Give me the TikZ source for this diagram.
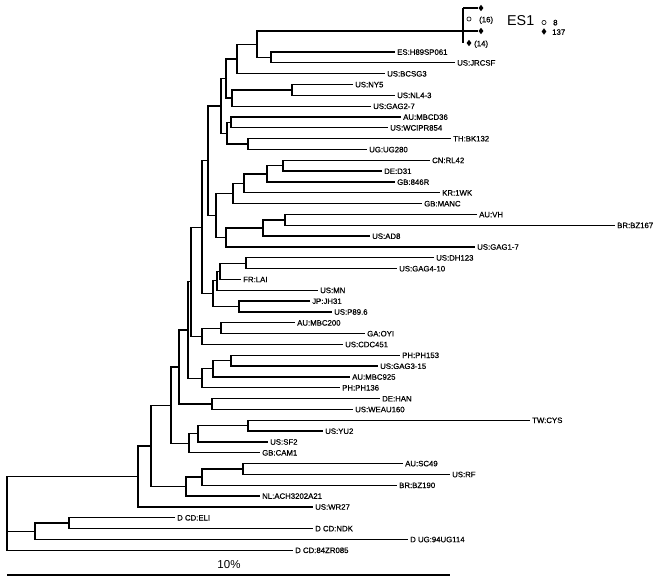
\documentclass[tikz,border=0pt]{standalone}
\usepackage{fontspec}
\setmainfont{Liberation Sans}
\newfontfamily\labfont{Liberation Sans}[FakeBold=0.6]
\usetikzlibrary{shapes.geometric}
\newcommand\tipleaf[4]{\coordinate (#1) at (#2,#3); \node[lab] (#1l) at (#1) {#4};}
\newcommand\kids[3]{\draw[br] (#2) -| (#1) |- (#3);}
\begin{document}
\begin{tikzpicture}[x=1pt,y=-1pt,
  br/.style={line width=1.3pt},
  lab/.style={anchor=west,font=\labfont\fontsize{7.8}{8}\selectfont,inner xsep=2pt,inner ysep=0pt,text height=5.6pt,text depth=0pt},
  dia/.style={diamond,fill=black,inner sep=0pt,minimum width=5pt,minimum height=6.5pt},
  opc/.style={circle,draw=black,line width=0.6pt,inner sep=0pt,minimum size=4.2pt}]
\useasboundingbox (0,0) rectangle (664,583);
% leaves
\tipleaf{t2}{395}{52.0}{ES:H89SP061}
\tipleaf{t3}{455}{62.8}{US:JRCSF}
\tipleaf{t4}{385}{73.7}{US:BCSG3}
\tipleaf{t5}{353}{84.5}{US:NY5}
\tipleaf{t6}{395}{95.3}{US:NL4-3}
\tipleaf{t7}{371}{106.2}{US:GAG2-7}
\tipleaf{t8}{401}{117.0}{AU:MBCD36}
\tipleaf{t9}{388}{127.8}{US:WCIPR854}
\tipleaf{t10}{451}{138.6}{TH:BK132}
\tipleaf{t11}{367}{149.5}{UG:UG280}
\tipleaf{t12}{430}{160.3}{CN:RL42}
\tipleaf{t13}{382}{171.1}{DE:D31}
\tipleaf{t14}{395}{182.0}{GB:846R}
\tipleaf{t15}{440}{192.8}{KR:1WK}
\tipleaf{t16}{422}{203.6}{GB:MANC}
\tipleaf{t17}{477}{214.5}{AU:VH}
\tipleaf{t18}{615}{225.3}{BR:BZ167}
\tipleaf{t19}{370}{236.1}{US:AD8}
\tipleaf{t20}{475}{246.9}{US:GAG1-7}
\tipleaf{t21}{434}{257.8}{US:DH123}
\tipleaf{t22}{397}{268.6}{US:GAG4-10}
\tipleaf{t23}{241}{279.4}{FR:LAI}
\tipleaf{t24}{318}{290.3}{US:MN}
\tipleaf{t25}{310}{301.1}{JP:JH31}
\tipleaf{t26}{332}{311.9}{US:P89.6}
\tipleaf{t27}{295}{322.8}{AU:MBC200}
\tipleaf{t28}{365}{333.6}{GA:OYI}
\tipleaf{t29}{343}{344.4}{US:CDC451}
\tipleaf{t30}{400}{355.2}{PH:PH153}
\tipleaf{t31}{378}{366.1}{US:GAG3-15}
\tipleaf{t32}{350}{376.9}{AU:MBC925}
\tipleaf{t33}{340}{387.7}{PH:PH136}
\tipleaf{t34}{380}{398.6}{DE:HAN}
\tipleaf{t35}{353}{409.4}{US:WEAU160}
\tipleaf{t36}{530}{420.2}{TW:CYS}
\tipleaf{t37}{323}{431.1}{US:YU2}
\tipleaf{t38}{268}{441.9}{US:SF2}
\tipleaf{t39}{260}{452.7}{GB:CAM1}
\tipleaf{t40}{403}{463.5}{AU:SC49}
\tipleaf{t41}{450}{474.4}{US:RF}
\tipleaf{t42}{397}{485.2}{BR:BZ190}
\tipleaf{t43}{260}{496.0}{NL:ACH3202A21}
\tipleaf{t44}{313}{506.9}{US:WR27}
\tipleaf{t45}{175}{517.7}{D CD:ELI}
\tipleaf{t46}{313}{528.5}{D CD:NDK}
\tipleaf{t47}{408}{539.4}{D UG:94UG114}
\tipleaf{t48}{293}{550.2}{D CD:84ZR085}
% internal nodes
\coordinate (es1) at (463,31);
\coordinate (a1) at (271,57.4);
\coordinate (a2) at (257,44.2);
\coordinate (a3) at (237,59.0);
\coordinate (a4) at (292,89.9);
\coordinate (a5) at (232,98.1);
\coordinate (a6) at (226,78.5);
\coordinate (b1) at (231,122.4);
\coordinate (b2) at (248,144.1);
\coordinate (b3) at (227,133.2);
\coordinate (a7) at (221,105.9);
\coordinate (c1) at (283,165.7);
\coordinate (c2) at (267,173.9);
\coordinate (c3) at (244,183.3);
\coordinate (c4) at (233,193.5);
\coordinate (d1) at (285,219.9);
\coordinate (d2) at (263,228.0);
\coordinate (d3) at (226,237.5);
\coordinate (c5) at (216,215.5);
\coordinate (a8) at (208,160.7);
\coordinate (e1) at (246,263.2);
\coordinate (e2) at (220,271.3);
\coordinate (e3) at (217,280.8);
\coordinate (e4) at (239,306.5);
\coordinate (e5) at (213,293.7);
\coordinate (a9) at (202,227.2);
\coordinate (f1) at (221,328.2);
\coordinate (f2) at (202,336.3);
\coordinate (a10) at (191,281.8);
\coordinate (g1) at (231,360.7);
\coordinate (g2) at (213,368.8);
\coordinate (g3) at (202,378.3);
\coordinate (a11) at (188,330.1);
\coordinate (h1) at (212,404.0);
\coordinate (a12) at (179,367.1);
\coordinate (i1) at (248,425.7);
\coordinate (i2) at (198,433.8);
\coordinate (i3) at (189,443.3);
\coordinate (a13) at (171,405.2);
\coordinate (j1) at (243,469.0);
\coordinate (j2) at (202,477.1);
\coordinate (j3) at (186,486.6);
\coordinate (a14) at (151,445.9);
\coordinate (a15) at (138,476.4);
\coordinate (k1) at (69,523.1);
\coordinate (k2) at (35,531.3);
\coordinate (root) at (7,513);
% branches
\kids{a1}{t2}{t3}
\kids{a2}{es1}{a1}
\kids{a3}{a2}{t4}
\kids{a4}{t5}{t6}
\kids{a5}{a4}{t7}
\kids{a6}{a3}{a5}
\kids{b1}{t8}{t9}
\kids{b2}{t10}{t11}
\kids{b3}{b1}{b2}
\kids{a7}{a6}{b3}
\kids{c1}{t12}{t13}
\kids{c2}{c1}{t14}
\kids{c3}{c2}{t15}
\kids{c4}{c3}{t16}
\kids{d1}{t17}{t18}
\kids{d2}{d1}{t19}
\kids{d3}{d2}{t20}
\kids{c5}{c4}{d3}
\kids{a8}{a7}{c5}
\kids{e1}{t21}{t22}
\kids{e2}{e1}{t23}
\kids{e3}{e2}{t24}
\kids{e4}{t25}{t26}
\kids{e5}{e3}{e4}
\kids{a9}{a8}{e5}
\kids{f1}{t27}{t28}
\kids{f2}{f1}{t29}
\kids{a10}{a9}{f2}
\kids{g1}{t30}{t31}
\kids{g2}{g1}{t32}
\kids{g3}{g2}{t33}
\kids{a11}{a10}{g3}
\kids{h1}{t34}{t35}
\kids{a12}{a11}{h1}
\kids{i1}{t36}{t37}
\kids{i2}{i1}{t38}
\kids{i3}{i2}{t39}
\kids{a13}{a12}{i3}
\kids{j1}{t40}{t41}
\kids{j2}{j1}{t42}
\kids{j3}{j2}{t43}
\kids{a14}{a13}{j3}
\kids{a15}{a14}{t44}
\kids{k1}{t45}{t46}
\kids{k2}{k1}{t47}
\kids{root}{a15}{t48}
\draw[br] (root) |- (k2);
% ES1 cluster
\coordinate (esTop) at (463,8);
\coordinate (esBot) at (463,43);
\draw[br] (esTop) -- (esBot);
\node[dia] (dTop) at (481,8) {};
\node[dia] (dMid) at (481,31) {};
\node[dia] (dBot) at (469,43) {};
\draw[br] (esTop) -- (dTop);
\draw[br] (es1) -- (dMid);
\node[opc] (cMid) at (469,19) {};
\node[lab,inner xsep=0pt] (n16) at (479,19.5) {(16)};
\node[lab,inner xsep=0pt] (n14) at (474,43.5) {(14)};
% legend
\node[anchor=west,inner sep=0pt,font=\fontsize{14.3}{15}\selectfont] (esl) at (507,21) {ES1};
\node[opc] (lgC) at (544,22.5) {};
\node[dia] (lgD) at (544,31.5) {};
\node[lab,inner xsep=0pt] (lg8) at (553,22.5) {8};
\node[lab,inner xsep=0pt] (lg137) at (552,32) {137};
% scale bar
\coordinate (sb1) at (7,575);
\coordinate (sb2) at (450,575);
\draw[br] (sb1) -- (sb2);
\node[font=\fontsize{11.5}{12}\selectfont,inner sep=0pt] (sbl) at (229,565) {10\%};
\end{tikzpicture}
\end{document}
